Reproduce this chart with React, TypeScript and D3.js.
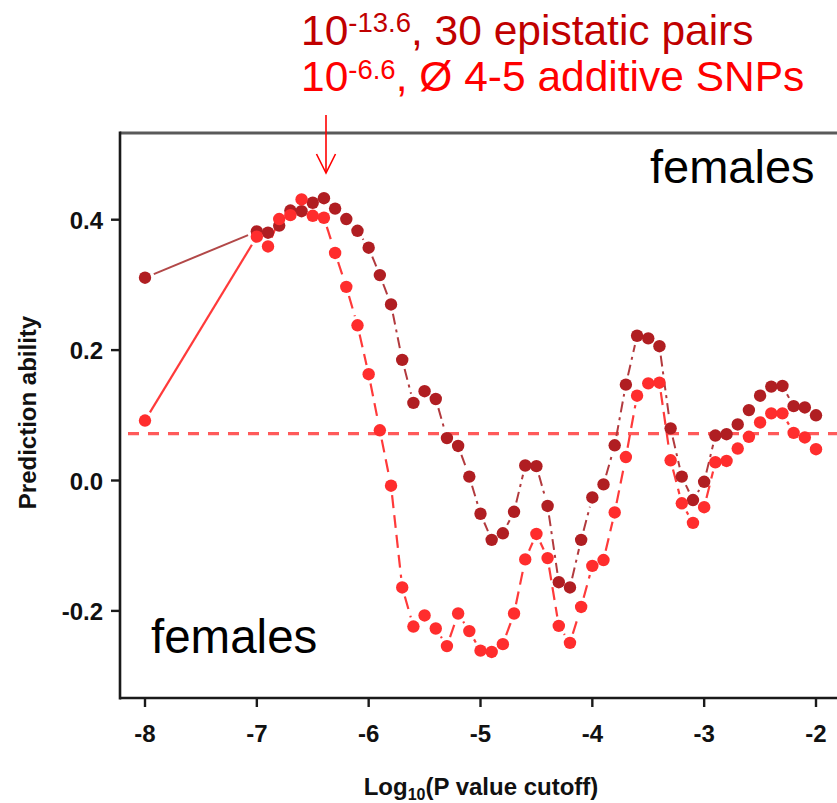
import React from "react";
import * as d3 from "d3";

const cutoffs = [-8, -7, -6.9, -6.8, -6.7, -6.6, -6.5, -6.4, -6.3, -6.2, -6.1, -6.0, -5.9, -5.8, -5.7, -5.6, -5.5, -5.4, -5.3, -5.2, -5.1, -5.0, -4.9, -4.8, -4.7, -4.6, -4.5, -4.4, -4.3, -4.2, -4.1, -4.0, -3.9, -3.8, -3.7, -3.6, -3.5, -3.4, -3.3, -3.2, -3.1, -3.0, -2.9, -2.8, -2.7, -2.6, -2.5, -2.4, -2.3, -2.2, -2.1, -2.0];

const epistatic = [0.311, 0.382, 0.380, 0.391, 0.414, 0.413, 0.426, 0.433, 0.417, 0.401, 0.383, 0.357, 0.315, 0.270, 0.185, 0.119, 0.137, 0.125, 0.065, 0.053, 0.006, -0.051, -0.091, -0.081, -0.048, 0.023, 0.022, -0.039, -0.156, -0.164, -0.091, -0.026, -0.006, 0.054, 0.147, 0.222, 0.218, 0.206, 0.080, 0.006, -0.030, -0.002, 0.069, 0.071, 0.086, 0.108, 0.130, 0.144, 0.145, 0.114, 0.112, 0.100];

const additive = [0.092, 0.374, 0.359, 0.401, 0.407, 0.431, 0.406, 0.403, 0.349, 0.297, 0.238, 0.163, 0.077, -0.008, -0.164, -0.224, -0.207, -0.227, -0.254, -0.204, -0.231, -0.261, -0.263, -0.251, -0.204, -0.121, -0.082, -0.119, -0.223, -0.249, -0.194, -0.131, -0.122, -0.049, 0.036, 0.130, 0.149, 0.150, 0.031, -0.035, -0.065, -0.041, 0.028, 0.030, 0.049, 0.067, 0.089, 0.103, 0.103, 0.073, 0.066, 0.048];

const baseline = 0.072;

const xTicks = [-8, -7, -6, -5, -4, -3, -2];
const yTicks = [-0.2, 0.0, 0.2, 0.4];

const W = 837;
const H = 803;
const left = 120;
const bottom = 698;
const top = 133;

const x = d3.scaleLinear().domain([-8, -2]).range([145, 816]);
const y = d3.scaleLinear().domain([0, 0.4]).range([480.5, 219.7]);
const rightEdge = 900;

function segments(vals: number[], gap: number) {
  const out: { x1: number; y1: number; x2: number; y2: number; i: number }[] = [];
  for (let i = 0; i < vals.length - 1; i++) {
    const ax = x(cutoffs[i]), ay = y(vals[i]);
    const bx = x(cutoffs[i + 1]), by = y(vals[i + 1]);
    const dx = bx - ax, dy = by - ay;
    const len = Math.hypot(dx, dy);
    if (len <= 2 * gap + 1) continue;
    const ux = dx / len, uy = dy / len;
    out.push({ x1: ax + ux * gap, y1: ay + uy * gap, x2: bx - ux * gap, y2: by - uy * gap, i });
  }
  return out;
}

const DARK = "#B01E22";
const BRIGHT = "#FF2D2D";

export default function App() {
  const darkSegs = segments(epistatic, 9.5);
  const brightSegs = segments(additive, 9.5);
  const font = "'Liberation Sans', Arial, Helvetica, sans-serif";
  return (
    <svg width={W} height={H} style={{ position: "absolute", left: 0, top: 0, background: "#fff" }} fontFamily={font}>
      <rect x={0} y={0} width={W} height={H} fill="#fff" />
      {/* baseline dashed */}
      <line x1={left + 8} x2={rightEdge} y1={y(baseline)} y2={y(baseline)} stroke="#FF5A5A" strokeWidth={3.2} strokeDasharray="11,9" />
      {/* series lines */}
      {darkSegs.map((s) => (
        <line key={"d" + s.i} x1={s.x1} y1={s.y1} x2={s.x2} y2={s.y2}
          stroke={s.i === 0 ? "#B24848" : "#B23A3E"} strokeWidth={2}
          strokeDasharray={s.i === 0 ? undefined : "11,5,3,5"} />
      ))}
      {brightSegs.map((s) => (
        <line key={"b" + s.i} x1={s.x1} y1={s.y1} x2={s.x2} y2={s.y2}
          stroke="#FF3A3A" strokeWidth={2.2}
          strokeDasharray={s.i === 0 ? undefined : "13,7"} />
      ))}
      {/* points */}
      {epistatic.map((v, i) => (
        <circle key={"dp" + i} cx={x(cutoffs[i])} cy={y(v)} r={6.2} fill={DARK} />
      ))}
      {additive.map((v, i) => (
        <circle key={"bp" + i} cx={x(cutoffs[i])} cy={y(v)} r={6.2} fill={BRIGHT} />
      ))}
      {/* frame */}
      <line x1={left} x2={rightEdge} y1={top} y2={top} stroke="#5a5a5a" strokeWidth={3} />
      <line x1={left} x2={left} y1={top - 1.5} y2={bottom + 1.5} stroke="#1a1a1a" strokeWidth={2.6} />
      <line x1={left} x2={rightEdge} y1={bottom} y2={bottom} stroke="#1a1a1a" strokeWidth={2.6} />
      {/* y ticks */}
      {yTicks.map((t) => (
        <g key={"yt" + t}>
          <line x1={left - 9} x2={left} y1={y(t)} y2={y(t)} stroke="#1a1a1a" strokeWidth={2.4} />
          <text x={103} y={y(t) + 9} textAnchor="end" fontSize={24} fontWeight="bold" fill="#111">
            {t.toFixed(1)}
          </text>
        </g>
      ))}
      {/* x ticks */}
      {xTicks.map((t) => (
        <g key={"xt" + t}>
          <line x1={x(t)} x2={x(t)} y1={bottom} y2={bottom + 9} stroke="#1a1a1a" strokeWidth={2.4} />
          <text x={x(t)} y={742} textAnchor="middle" fontSize={24} fontWeight="bold" fill="#111">
            {String(t)}
          </text>
        </g>
      ))}
      {/* axis titles */}
      <text x={481} y={795} textAnchor="middle" fontSize={24} fontWeight="bold" fill="#111">
        <tspan>Log</tspan>
        <tspan fontSize={16} dy={5}>10</tspan>
        <tspan dy={-5}>(P value cutoff)</tspan>
      </text>
      <text transform="translate(36,412.5) rotate(-90)" textAnchor="middle" fontSize={24} fontWeight="bold" fill="#111">
        Prediction ability
      </text>
      {/* panel labels */}
      <text x={650} y={183} fontSize={47} fill="#000">females</text>
      <text x={151} y={653} fontSize={47.5} fill="#000">females</text>
      {/* annotations */}
      <text x={301} y={45} fontSize={42.5} fill="#C00000">
        <tspan>10</tspan>
        <tspan fontSize={27.5} dy={-13}>-13.6</tspan>
        <tspan dy={13}>, 30 epistatic pairs</tspan>
      </text>
      <text x={301} y={91} fontSize={42.5} fill="#FF0000">
        <tspan>10</tspan>
        <tspan fontSize={27.5} dy={-12}>-6.6</tspan>
        <tspan dy={12}>, Ø 4-5 additive SNPs</tspan>
      </text>
      <line x1={326} x2={326} y1={115} y2={173} stroke="#FF0000" strokeWidth={1.6} />
      <polyline points="316.5,154 326,173 335.5,154" fill="none" stroke="#FF0000" strokeWidth={1.6} />
    </svg>
  );
}
